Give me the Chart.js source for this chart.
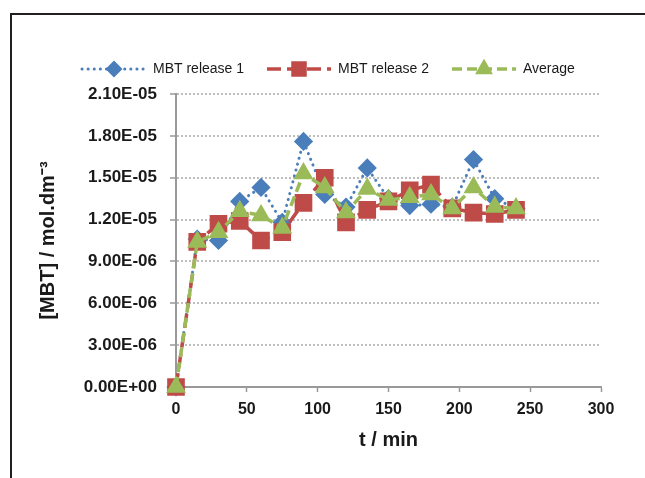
<!DOCTYPE html>
<html lang="en">
<head>
<meta charset="UTF-8">
<title>MBT release</title>
<script src="https://cdn.jsdelivr.net/npm/chart.js"></script>
<style>
    * { margin: 0; padding: 0; box-sizing: border-box; }
    body { background: #fff; width: 645px; height: 478px; overflow: hidden; position: relative; }
    .frame {
        position: absolute; left: 10px; top: 13px; width: 700px; height: 520px;
        border-top: 2px solid #231f20; border-left: 2px solid #231f20;
    }
    canvas { position: absolute; left: 0; top: 0; }
</style>
</head>
<body>
<div class="frame"></div>
<canvas id="myChart" width="645" height="478"></canvas>
<script>
    // 时间 (min)
    var times = [0, 15, 30, 45, 60, 75, 90, 105, 120, 135, 150, 165, 180, 195, 210, 225, 240];
    // [MBT] / mol.dm-3
    var release1 = [0, 1.06e-5, 1.05e-5, 1.33e-5, 1.43e-5, 1.18e-5, 1.76e-5, 1.38e-5, 1.29e-5, 1.57e-5, 1.35e-5, 1.30e-5, 1.31e-5, 1.29e-5, 1.63e-5, 1.35e-5, 1.28e-5];
    var release2 = [0, 1.04e-5, 1.17e-5, 1.19e-5, 1.05e-5, 1.11e-5, 1.32e-5, 1.50e-5, 1.18e-5, 1.27e-5, 1.33e-5, 1.41e-5, 1.45e-5, 1.28e-5, 1.25e-5, 1.24e-5, 1.27e-5];
    var average  = [0, 1.04e-5, 1.11e-5, 1.26e-5, 1.23e-5, 1.14e-5, 1.53e-5, 1.43e-5, 1.25e-5, 1.42e-5, 1.34e-5, 1.36e-5, 1.38e-5, 1.28e-5, 1.43e-5, 1.29e-5, 1.28e-5];
    var seriesNames = ['MBT release 1', 'MBT release 2', 'Average'];

    var FONT = '"Liberation Sans", Arial, sans-serif';

    function toPoints(ys) {
        return ys.map(function (y, i) { return { x: times[i], y: y }; });
    }

    // 0.00E+00 风格的刻度
    function sci(v) {
        if (Math.abs(v) < 1e-12) return '0.00E+00';
        var parts = v.toExponential(2).split('e');
        var e = parseInt(parts[1], 10);
        var ae = Math.abs(e);
        return parts[0] + 'E' + (e < 0 ? '-' : '+') + (ae < 10 ? '0' : '') + ae;
    }

    // 图例：线 + 标记 + 文字
    var legendPlugin = {
        id: 'seriesLegend',
        afterDraw: function (chart) {
            var ctx = chart.ctx;
            var starts = [82, 267, 452];
            var y = 69;
            chart.data.datasets.forEach(function (ds, i) {
                var x0 = starts[i], x1 = x0 + 64;
                ctx.save();
                ctx.strokeStyle = ds.borderColor;
                ctx.lineWidth = ds.borderWidth;
                ctx.lineCap = ds.borderCapStyle || 'butt';
                ctx.setLineDash(ds.borderDash || []);
                ctx.beginPath();
                ctx.moveTo(x0, y);
                ctx.lineTo(x1, y);
                ctx.stroke();
                ctx.setLineDash([]);
                ctx.fillStyle = ds.pointBackgroundColor;
                ctx.strokeStyle = ds.pointBorderColor;
                Chart.helpers.drawPoint(ctx, {
                    pointStyle: ds.pointStyle, radius: ds.pointRadius * 0.85, rotation: 0, borderWidth: 1
                }, (x0 + x1) / 2, y);
                ctx.fillStyle = '#1a1a1a';
                ctx.font = '14px ' + FONT;
                ctx.textBaseline = 'middle';
                ctx.textAlign = 'left';
                ctx.fillText(seriesNames[i], x1 + 7, y);
                ctx.restore();
            });
        }
    };

    var ctx = document.getElementById('myChart').getContext('2d');
    var myChart = new Chart(ctx, {
        type: 'line',
        data: {
            datasets: [
                {
                    label: seriesNames[0],
                    data: toPoints(release1),
                    borderColor: '#4a7ebb',
                    borderWidth: 3,
                    borderDash: [0.1, 6],
                    borderCapStyle: 'round',
                    pointStyle: 'rectRot',
                    pointRadius: 7.5,
                    pointBackgroundColor: '#4a7ebb',
                    pointBorderColor: '#4a7ebb',
                    order: 3,
                    clip: false
                },
                {
                    label: seriesNames[1],
                    data: toPoints(release2),
                    borderColor: '#be4b48',
                    borderWidth: 3.5,
                    borderDash: [14, 6],
                    pointStyle: 'rect',
                    pointRadius: 10,
                    pointBackgroundColor: '#be4b48',
                    pointBorderColor: '#be4b48',
                    order: 2,
                    clip: false
                },
                {
                    label: seriesNames[2],
                    data: toPoints(average),
                    borderColor: '#9bbb59',
                    borderWidth: 3.5,
                    borderDash: [10, 5],
                    pointStyle: 'triangle',
                    pointRadius: 8,
                    pointBackgroundColor: '#9bbb59',
                    pointBorderColor: '#9bbb59',
                    order: 1,
                    clip: false
                }
            ]
        },
        options: {
            responsive: false,
            animation: false,
            layout: { padding: { top: 94, left: 32, right: 44, bottom: 22 } },
            elements: { line: { tension: 0 } },
            plugins: {
                legend: { display: false },
                tooltip: { enabled: false }
            },
            scales: {
                x: {
                    type: 'linear',
                    min: 0,
                    max: 300,
                    ticks: {
                        stepSize: 50,
                        padding: 8,
                        color: '#1a1a1a',
                        font: { family: FONT, size: 16, weight: 'bold' }
                    },
                    grid: { drawOnChartArea: false, tickLength: 5, tickColor: '#999', tickWidth: 1.5 },
                    border: { color: '#999', width: 2 },
                    title: {
                        display: true,
                        text: 't / min',
                        color: '#1a1a1a',
                        padding: { top: 4, bottom: 4 },
                        font: { family: FONT, size: 20, weight: 'bold' }
                    },
                    afterFit: function (s) { s.height = 69; }
                },
                y: {
                    min: 0,
                    max: 2.1e-5,
                    ticks: {
                        stepSize: 3e-6,
                        padding: 13,
                        color: '#1a1a1a',
                        font: { family: FONT, size: 17, weight: 'bold' },
                        callback: function (v) { return sci(v); }
                    },
                    grid: {
                        color: function (c) { return c.tick && c.tick.value === 0 ? 'rgba(0,0,0,0)' : '#bdbdbd'; },
                        lineWidth: 2,
                        tickLength: 6,
                        tickColor: '#999',
                        tickWidth: 1.5,
                        tickBorderDash: []
                    },
                    border: { color: '#999', width: 2, dash: [2, 2] },
                    title: {
                        display: true,
                        text: '[MBT] / mol.dm\u207B\u00B3',
                        color: '#1a1a1a',
                        padding: { top: 4, bottom: 4 },
                        font: { family: FONT, size: 20, weight: 'bold' }
                    },
                    afterFit: function (s) { s.width = 144; }
                }
            }
        },
        plugins: [legendPlugin]
    });
</script>
</body>
</html>
